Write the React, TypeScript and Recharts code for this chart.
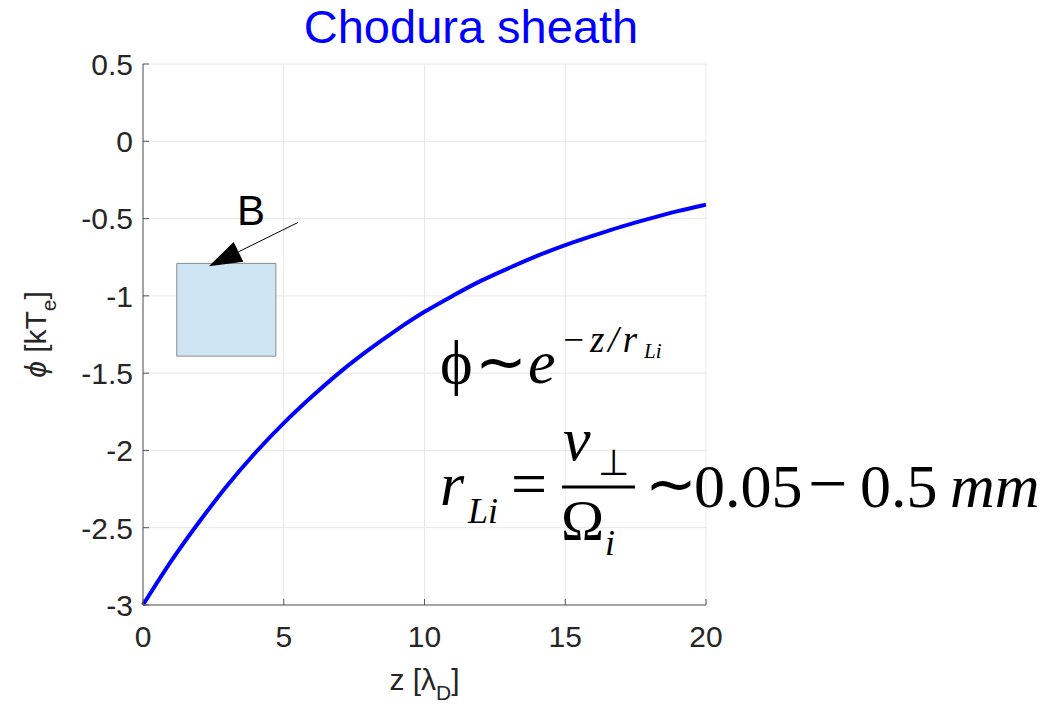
import React from "react";
import {
  LineChart,
  Line,
  XAxis,
  YAxis,
  CartesianGrid,
  ReferenceArea,
  ReferenceLine,
} from "recharts";

// potential drop across the magnetic presheath, in units of kTe
const zValues = [0, 1, 2, 3, 4, 5, 6, 7, 8, 9, 10, 11, 12, 13, 14, 15, 16, 17, 18, 19, 20];
const phiValues = [
  -3.0, -2.71, -2.46, -2.22, -2.01, -1.82, -1.65, -1.49, -1.35, -1.22, -1.1,
  -1.0, -0.9, -0.82, -0.74, -0.67, -0.61, -0.55, -0.5, -0.45, -0.41,
];
const xTicks = [0, 5, 10, 15, 20];
const yTicks = [-3, -2.5, -2, -1.5, -1, -0.5, 0, 0.5];

// wall sketch and field arrow, in data units
const wallBox = { x1: 1.2, x2: 4.72, y1: -1.39, y2: -0.79 };
const fieldArrow = [
  { x: 5.51, y: -0.525 },
  { x: 2.34, y: -0.809 },
];

const data = zValues.map((z, i) => ({ z, phi: phiValues[i] }));

const SANS = "'Liberation Sans', Arial, Helvetica, sans-serif";
const SERIF = "'Liberation Serif', 'Times New Roman', serif";
const AXIS = "#555555";
const TEXT = "#262626";

const YTick = (props: any) => {
  const { x, y, payload } = props;
  return (
    <g>
      <line x1={x + 10} x2={x + 16} y1={y} y2={y} stroke={AXIS} />
      <text x={x} y={y} dy="0.36em" textAnchor="end" fontFamily={SANS} fontSize={30} fill={TEXT}>
        {payload.value}
      </text>
    </g>
  );
};

const XTick = (props: any) => {
  const { x, y, payload } = props;
  return (
    <g>
      <line x1={x} x2={x} y1={y} y2={y - 6} stroke={AXIS} />
      <text x={x} y={y + 31} dy="0.36em" textAnchor="middle" fontFamily={SANS} fontSize={30} fill={TEXT}>
        {payload.value}
      </text>
    </g>
  );
};

const XLabel = (props: any) => {
  const { x, y, width } = props.viewBox;
  return (
    <text x={x + width / 2} y={y + 85} textAnchor="middle" fontFamily={SANS} fontSize={30} fill={TEXT}>
      z [λ
      <tspan fontSize={21} dy={10}>D</tspan>
      <tspan dy={-10}>]</tspan>
    </text>
  );
};

const YLabel = (props: any) => {
  const { y, height } = props.viewBox;
  const cx = 46;
  const cy = y + height / 2;
  return (
    <text
      x={cx}
      y={cy}
      transform={`rotate(-90 ${cx} ${cy})`}
      textAnchor="middle"
      fontFamily={SANS}
      fontSize={30}
      fill={TEXT}
    >
      <tspan fontStyle="italic">ϕ</tspan> [kT
      <tspan fontSize={21} dy={10}>e</tspan>
      <tspan dy={-10}>]</tspan>
    </text>
  );
};

// thin line with a filled head, plus the "B" tag near its tail
const FieldArrow = (props: any) => {
  const { x1, y1, x2, y2 } = props;
  const dx = x2 - x1;
  const dy = y2 - y1;
  const len = Math.hypot(dx, dy);
  const ux = dx / len;
  const uy = dy / len;
  const headLen = 33;
  const halfW = 11;
  const bx = x2 - ux * headLen;
  const by = y2 - uy * headLen;
  const head = `${x2},${y2} ${bx - uy * halfW},${by + ux * halfW} ${bx + uy * halfW},${by - ux * halfW}`;
  return (
    <g>
      <line x1={x1} y1={y1} x2={bx} y2={by} stroke="#000" strokeWidth={1} />
      <polygon points={head} fill="#000" />
      <text x={x1 - 47} y={y1 + 3} textAnchor="middle" fontFamily={SANS} fontSize={42} fill="#000">
        B
      </text>
    </g>
  );
};

export default function App() {
  return (
    <div style={{ position: "absolute", left: 0, top: 0, width: 1056, height: 707, background: "#fff" }}>
      <LineChart width={1056} height={707} data={data} margin={{ top: 64, right: 350, bottom: 0, left: 0 }}>
        <CartesianGrid stroke="#e8e8e8" strokeWidth={1} />
        <XAxis
          dataKey="z"
          type="number"
          domain={[0, 20]}
          ticks={xTicks}
          height={102}
          tickSize={0}
          tickMargin={0}
          tick={<XTick />}
          axisLine={{ stroke: AXIS }}
          tickLine={false}
          label={<XLabel />}
        />
        <YAxis
          type="number"
          domain={[-3, 0.5]}
          ticks={yTicks}
          width={143}
          tickSize={0}
          tickMargin={10}
          tick={<YTick />}
          axisLine={{ stroke: AXIS }}
          tickLine={false}
          label={<YLabel />}
        />
        <ReferenceArea
          x1={wallBox.x1}
          x2={wallBox.x2}
          y1={wallBox.y1}
          y2={wallBox.y2}
          fill="#d0e5f3"
          fillOpacity={1}
          stroke="#8c8c8c"
          strokeWidth={1}
        />
        <ReferenceLine segment={fieldArrow} shape={<FieldArrow />} />
        <Line
          type="basis"
          dataKey="phi"
          stroke="#0000ff"
          strokeWidth={4}
          dot={false}
          isAnimationActive={false}
        />
      </LineChart>

      <svg
        width={1056}
        height={707}
        style={{ position: "absolute", left: 0, top: 0, pointerEvents: "none" }}
      >
        <text x={471} y={43} textAnchor="middle" fontFamily={SANS} fontSize={47} fill="#0000ff">
          Chodura sheath
        </text>

        <g fontFamily={SERIF} fill="#000">
          {/* phi ~ exp(-z / r_Li) */}
          <text x={440} y={383} fontSize={62}>ϕ</text>
          <text x={475} y={383} fontSize={62}>∼</text>
          <text x={528} y={383} fontSize={62} fontStyle="italic">e</text>
          <text x={561} y={352} fontSize={37} fontStyle="italic" letterSpacing={4}>−z/r</text>
          <text x={644} y={358} fontSize={21} fontStyle="italic">Li</text>

          {/* Larmor radius */}
          <text x={440} y={505} fontSize={62} fontStyle="italic">r</text>
          <text x={468} y={523} fontSize={36} fontStyle="italic">Li</text>
          <text x={511} y={505} fontSize={64}>=</text>
          <text x={563} y={460} fontSize={62} fontStyle="italic">v</text>
          <text x={598} y={475} fontSize={36}>⊥</text>
          <line x1={562} x2={635} y1={487} y2={487} stroke="#000" strokeWidth={3} />
          <text x={561} y={540} fontSize={58}>Ω</text>
          <text x={605} y={555} fontSize={36} fontStyle="italic">i</text>
          <text x={645} y={505} fontSize={62}>∼</text>
          <text x={694} y={507} fontSize={62}>0.05</text>
          <text x={808} y={507} fontSize={70}>−</text>
          <text x={860} y={507} fontSize={62}>0.5</text>
          <text x={950} y={507} fontSize={62} fontStyle="italic">mm</text>
        </g>
      </svg>
    </div>
  );
}
